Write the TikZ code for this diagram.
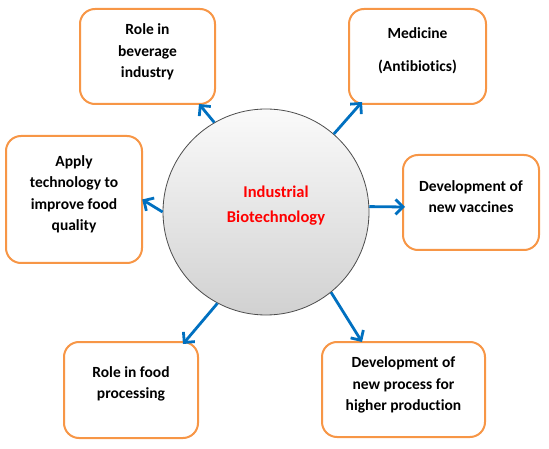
\documentclass[tikz,border=0pt]{standalone}
\usepackage{fontspec}
\setmainfont{Carlito}[Ligatures=NoCommon]
\usetikzlibrary{arrows.meta}
\definecolor{boxorange}{RGB}{247,150,70}
\definecolor{arrowblue}{RGB}{0,112,192}
\definecolor{titlered}{RGB}{255,0,0}
\begin{document}
\begin{tikzpicture}[x=1pt,y=-1pt,
  boxshape/.style={draw=boxorange,line width=2pt,rounded corners=15pt,fill=white},
  boxtext/.style={font=\bfseries\fontsize{15.5}{21.5}\selectfont,align=center,text=black,inner sep=0pt},
  conn/.style={draw=arrowblue,line width=2.8pt,-{Straight Barb[length=7.5pt,width=15pt]}}]
\useasboundingbox (0,0) rectangle (549,449);
% circle
\node[circle,minimum size=206pt,inner sep=0pt,draw=gray!60!black,line width=0.8pt,
  top color=gray!4,bottom color=gray!36] (c) at (266,212) {};
\node[font=\bfseries\fontsize{16.5}{25}\selectfont,text=titlered,align=center,inner sep=0pt] (ct) at (276,206) {Industrial\\Biotechnology};
% boxes
\draw[boxshape] (80,9) rectangle (215,104);
\node[inner sep=0pt,minimum width=135pt,minimum height=95pt] (bev) at (147.5,56.5) {};
\node[boxtext] (bevt) at (147.5,52) {Role in\\beverage\\industry};
\draw[boxshape] (349,9) rectangle (486,104);
\node[inner sep=0pt,minimum width=137pt,minimum height=95pt] (med) at (417.5,56.5) {};
\node[boxtext] (medt) at (417.5,50.5) {Medicine\\[11pt](Antibiotics)};
\draw[boxshape] (6,136) rectangle (142,263);
\node[inner sep=0pt,minimum width=136pt,minimum height=127pt] (app) at (74,199.5) {};
\node[boxtext] (appt) at (74,194.5) {Apply\\technology to\\improve food\\quality};
\draw[boxshape] (403,155) rectangle (539,250);
\node[inner sep=0pt,minimum width=136pt,minimum height=95pt] (vac) at (471,202.5) {};
\node[boxtext] (vact) at (471,196.5) {Development of\\new vaccines};
\draw[boxshape] (64,342) rectangle (198,438);
\node[inner sep=0pt,minimum width=134pt,minimum height=96pt] (food) at (131,390) {};
\node[boxtext] (foodt) at (131,384) {Role in food\\processing};
\draw[boxshape] (322,342) rectangle (485,437);
\node[inner sep=0pt,minimum width=163pt,minimum height=95pt] (dev) at (403.5,389.5) {};
\node[boxtext] (devt) at (403.5,385) {Development of\\new process for\\higher production};
% arrow end points
\coordinate (ebev) at (199,104);
\coordinate (emed) at (362,102);
\coordinate (evac) at (405,207);
\coordinate (efood) at (183,344);
\coordinate (edev) at (362,342);
\draw[conn] (c.120) -- (ebev);
\draw[conn] (c.49) -- (emed);
\draw[conn] (c.180) -- (app.east);
\draw[conn] (c.3) -- (evac);
\draw[conn] (c.242) -- (efood);
\draw[conn] (c.309) -- (edev);
\end{tikzpicture}
\end{document}
